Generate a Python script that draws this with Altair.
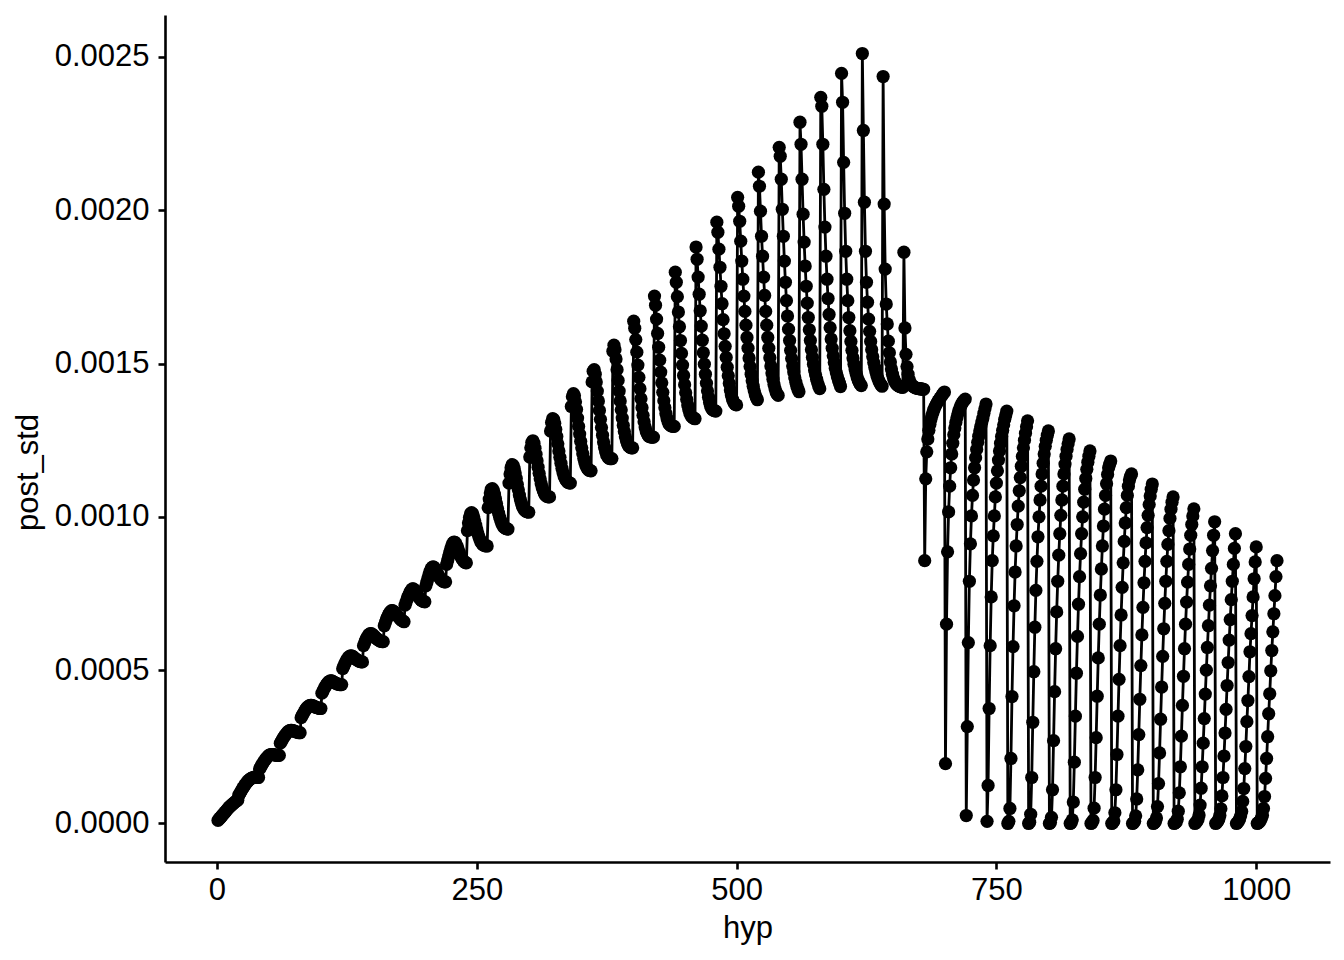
import altair as alt
import pandas as pd

# post_std values in units of 1e-6, one list per block of 20 consecutive hypotheses
rising_blocks = [
    [10, 14, 18, 22, 26, 30, 34, 38, 42, 46, 50, 54, 57, 60, 63, 66, 69, 72, 74, 76],
    [92, 98, 104, 110, 116, 121, 126, 131, 135, 139, 142, 145, 147, 149, 150, 151, 151, 151, 150, 150],
    [178, 184, 190, 196, 201, 206, 211, 215, 219, 222, 224, 225, 225, 225, 224, 223, 223, 222, 222, 222],
    [262, 268, 274, 280, 285, 290, 294, 298, 301, 303, 304, 304, 303, 302, 300, 299, 298, 297, 296, 296],
    [345, 352, 358, 364, 370, 375, 379, 382, 384, 385, 385, 384, 383, 381, 379, 378, 377, 376, 375, 375],
    [425, 432, 439, 445, 451, 456, 460, 463, 465, 465, 464, 462, 460, 458, 456, 455, 454, 453, 453, 453],
    [505, 513, 521, 528, 534, 539, 543, 546, 547, 546, 544, 541, 538, 535, 533, 531, 529, 528, 527, 527],
    [580, 589, 597, 604, 610, 615, 618, 619, 618, 615, 612, 608, 605, 602, 599, 597, 595, 594, 593, 593],
    [645, 655, 665, 673, 680, 686, 691, 694, 694, 692, 688, 684, 680, 676, 672, 668, 665, 662, 660, 658],
    [712, 722, 732, 741, 749, 756, 761, 765, 765, 762, 757, 751, 745, 739, 734, 730, 727, 725, 724, 723],
    [775, 787, 799, 811, 822, 830, 835, 837, 835, 830, 823, 816, 809, 803, 798, 794, 791, 789, 788, 788],
    [845, 858, 871, 884, 896, 906, 914, 918, 917, 912, 904, 895, 885, 876, 868, 862, 857, 853, 851, 850],
    [955, 980, 998, 1010, 1014, 1010, 1000, 987, 973, 959, 946, 935, 926, 918, 913, 909, 907, 906, 905, 905],
    [1030, 1058, 1078, 1090, 1092, 1086, 1074, 1059, 1043, 1027, 1012, 999, 988, 979, 972, 967, 964, 962, 961, 960],
    [1110, 1140, 1160, 1170, 1168, 1158, 1143, 1125, 1106, 1088, 1071, 1056, 1044, 1034, 1027, 1022, 1019, 1017, 1016, 1015],
    [1195, 1225, 1243, 1248, 1240, 1224, 1204, 1183, 1162, 1142, 1124, 1108, 1095, 1085, 1077, 1071, 1068, 1066, 1065, 1065],
    [1280, 1308, 1320, 1318, 1305, 1285, 1262, 1238, 1215, 1194, 1175, 1158, 1144, 1133, 1125, 1119, 1115, 1112, 1111, 1110],
    [1360, 1392, 1402, 1395, 1375, 1350, 1322, 1295, 1270, 1246, 1225, 1206, 1190, 1177, 1167, 1160, 1155, 1152, 1151, 1150],
    [1440, 1475, 1480, 1465, 1440, 1410, 1378, 1347, 1318, 1291, 1266, 1244, 1226, 1212, 1202, 1196, 1192, 1190, 1190, 1190],
    [1540, 1560, 1545, 1515, 1480, 1445, 1410, 1378, 1349, 1322, 1298, 1278, 1261, 1248, 1238, 1232, 1228, 1226, 1225, 1225],
]

falling_blocks = [
    [1638, 1615, 1578, 1537, 1495, 1455, 1418, 1385, 1356, 1331, 1310, 1293, 1280, 1271, 1265, 1262, 1261, 1260, 1260, 1260],
    [1720, 1690, 1645, 1598, 1553, 1511, 1472, 1437, 1406, 1379, 1356, 1337, 1322, 1311, 1303, 1299, 1297, 1296, 1295, 1295],
    [1798, 1765, 1718, 1668, 1620, 1575, 1533, 1495, 1461, 1431, 1405, 1383, 1365, 1350, 1339, 1331, 1326, 1323, 1321, 1320],
    [1880, 1840, 1782, 1726, 1672, 1622, 1576, 1535, 1498, 1465, 1436, 1411, 1390, 1373, 1361, 1353, 1349, 1347, 1346, 1345],
    [1961, 1928, 1873, 1814, 1752, 1695, 1643, 1597, 1556, 1520, 1488, 1460, 1435, 1414, 1397, 1384, 1375, 1369, 1366, 1365],
    [2042, 2013, 1964, 1899, 1834, 1775, 1720, 1670, 1625, 1585, 1550, 1518, 1490, 1465, 1444, 1426, 1411, 1398, 1389, 1382],
    [2124, 2078, 1997, 1915, 1850, 1782, 1722, 1670, 1625, 1585, 1550, 1519, 1492, 1469, 1449, 1432, 1418, 1407, 1400, 1396],
    [2205, 2176, 2101, 2003, 1915, 1834, 1765, 1705, 1655, 1612, 1575, 1543, 1516, 1492, 1472, 1454, 1439, 1426, 1416, 1408],
    [2287, 2215, 2101, 1987, 1896, 1818, 1752, 1697, 1650, 1610, 1575, 1545, 1520, 1498, 1479, 1463, 1449, 1437, 1427, 1418],
    [2368, 2339, 2215, 2068, 1945, 1850, 1775, 1712, 1660, 1617, 1580, 1550, 1525, 1503, 1485, 1470, 1457, 1446, 1436, 1425],
    [2446, 2352, 2156, 1990, 1866, 1775, 1705, 1650, 1607, 1572, 1543, 1518, 1498, 1482, 1468, 1456, 1446, 1438, 1432, 1428],
    [2511, 2260, 2026, 1866, 1765, 1700, 1645, 1605, 1572, 1545, 1522, 1503, 1487, 1473, 1461, 1451, 1443, 1436, 1430, 1426],
    [2436, 2020, 1808, 1694, 1629, 1573, 1535, 1505, 1482, 1465, 1452, 1443, 1437, 1432, 1429, 1427, 1425, 1424, 1423, 1422],
    [1863, 1616, 1530, 1490, 1465, 1448, 1438, 1432, 1428, 1425, 1423, 1421, 1420, 1419, 1418, 1418, 1417, 1417, 1416, 1416],
]

recovering_blocks = [
    [857, 1124, 1212, 1254, 1282, 1302, 1318, 1331, 1342, 1351, 1359, 1366, 1372, 1378, 1383, 1388, 1393, 1398, 1403, 1407],
    [195, 650, 886, 1016, 1100, 1160, 1205, 1240, 1268, 1290, 1308, 1323, 1336, 1347, 1356, 1364, 1371, 1376, 1380, 1384],
    [26, 316, 590, 790, 912, 1003, 1070, 1120, 1160, 1193, 1220, 1243, 1263, 1280, 1295, 1309, 1322, 1338, 1353, 1368],
    [7, 124, 375, 580, 739, 857, 938, 1003, 1065, 1110, 1150, 1185, 1215, 1240, 1262, 1282, 1300, 1318, 1332, 1345],
    [0, 7, 49, 212, 414, 577, 710, 820, 905, 975, 1035, 1085, 1128, 1165, 1197, 1225, 1250, 1273, 1294, 1313],
    [0, 4, 30, 150, 330, 495, 640, 760, 855, 935, 1000, 1055, 1100, 1140, 1175, 1205, 1230, 1250, 1266, 1280],
    [0, 3, 20, 110, 270, 430, 570, 690, 790, 875, 945, 1005, 1055, 1100, 1140, 1172, 1198, 1220, 1238, 1254],
    [0, 2, 12, 70, 200, 350, 490, 610, 715, 805, 880, 945, 1000, 1048, 1090, 1125, 1155, 1178, 1198, 1215],
    [0, 2, 10, 50, 150, 280, 415, 540, 650, 745, 830, 905, 970, 1025, 1070, 1108, 1138, 1160, 1172, 1182],
    [0, 2, 8, 35, 110, 225, 350, 470, 580, 680, 770, 850, 920, 980, 1030, 1070, 1100, 1120, 1132, 1140],
    [0, 2, 7, 25, 80, 175, 290, 405, 515, 615, 705, 785, 855, 915, 965, 1005, 1040, 1068, 1090, 1107],
    [0, 2, 6, 18, 55, 130, 230, 340, 445, 545, 635, 718, 790, 855, 910, 955, 995, 1025, 1048, 1065],
    [0, 2, 5, 14, 40, 100, 185, 285, 385, 480, 570, 650, 722, 787, 845, 895, 940, 975, 1003, 1026],
    [0, 3, 7, 14, 28, 60, 115, 185, 262, 342, 422, 500, 574, 645, 712, 775, 832, 890, 940, 984],
    [0, 3, 7, 14, 26, 48, 90, 150, 220, 295, 372, 450, 525, 598, 665, 730, 790, 845, 897, 945],
    [0, 3, 8, 15, 25, 39, 72, 114, 179, 251, 332, 401, 479, 560, 619, 678, 739, 798, 853, 902],
    [0, 2, 5, 10, 18, 26, 49, 88, 147, 212, 283, 358, 423, 498, 564, 625, 684, 743, 805, 857],
]

x_ticks = [0, 250, 500, 750, 1000]
y_ticks = [0.0, 0.0005, 0.0010, 0.0015, 0.0020, 0.0025]

rows = []
hyp = 0
for block in rising_blocks + falling_blocks + recovering_blocks:
    for v in block:
        hyp += 1
        rows.append({"hyp": hyp, "post_std": v * 1e-6})
df = pd.DataFrame(rows)

FONT = "Liberation Sans"
x_enc = alt.X("hyp:Q", title="hyp",
              scale=alt.Scale(domain=[-50, 1071], nice=False, zero=False),
              axis=alt.Axis(values=x_ticks, format="d"))
y_enc = alt.Y("post_std:Q", title="post_std",
              scale=alt.Scale(domain=[-0.0001256, 0.0026366], nice=False, zero=False),
              axis=alt.Axis(values=y_ticks, format=".4f", titleY=457))

base = alt.Chart(df)
line = base.mark_line(color="black", strokeWidth=2.8).encode(x=x_enc, y=y_enc)
pts = base.mark_circle(color="black", size=175, opacity=1).encode(x=x_enc, y=y_enc)

chart = (
    (line + pts)
    .properties(width=1165, height=847,
                autosize=alt.AutoSizeParams(type="none"),
                padding={"left": 157, "top": 7, "right": 6, "bottom": 90})
    .configure_view(stroke=None)
    .configure_axis(
        grid=False,
        domainColor="black", domainWidth=2.6,
        tickColor="black", tickWidth=2.6, tickSize=7,
        labelColor="black", labelFont=FONT, labelFontSize=31,
        titleColor="black", titleFont=FONT, titleFontSize=31, titleFontWeight="normal",
        labelPadding=6,
    )
    .configure_axisX(titlePadding=8)
    .configure_axisY(titlePadding=10, labelPadding=9)
)

chart.save("out.html", embed_options={"renderer": "svg", "actions": False})
